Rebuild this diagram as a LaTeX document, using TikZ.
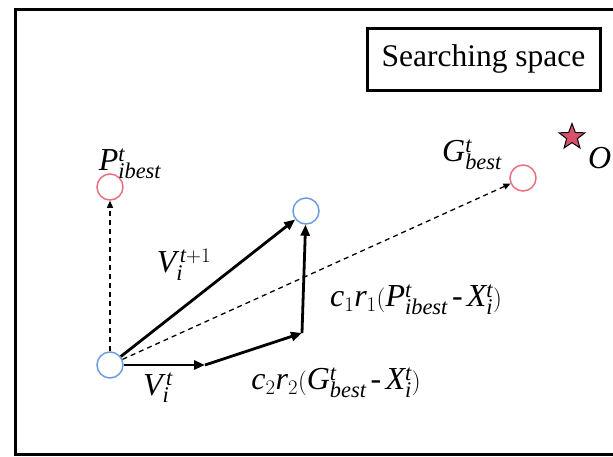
\documentclass[tikz,border=0pt]{standalone}
\usepackage{fontspec}
\setmainfont{Liberation Serif}
\usepackage{tikz}
\usetikzlibrary{arrows.meta,positioning,shapes.geometric}
\definecolor{bestred}{HTML}{E8707E}
\definecolor{partblue}{HTML}{6B9BE0}
\definecolor{starred}{HTML}{D9506A}
\newcommand{\mi}[1]{\mathit{#1}}

\begin{document}
\begin{tikzpicture}[
  x=1pt, y=-1pt,
  font=\fontsize{32}{36}\selectfont,
  pt/.style={circle, draw, line width=1.5pt, minimum size=26pt, inner sep=0pt},
  best/.style={pt, draw=bestred},
  part/.style={pt, draw=partblue},
  vec/.style={line width=2.8pt, -{Triangle[length=11pt,width=9pt]}},
  guide/.style={line width=1.3pt, dash pattern=on 5pt off 4pt, -{Triangle[length=7pt,width=6pt]}},
  lbl/.style={inner sep=0pt}
]
\useasboundingbox (0,0) rectangle (613,456);
\clip (0,0) rectangle (613,456);

% frame and title
\draw[line width=3pt] (15,9) rectangle (640,454);
\node[draw, line width=3pt, minimum width=233pt, minimum height=62pt,
      font=\fontsize{31.5}{34}\selectfont] (title) at (483.5,59) {Searching space};

% particles and bests
\node[best] (pbest) at (110,187) {};
\node[best] (gbest) at (523,178) {};
\node[part] (xi) at (110,365) {};
\node[part] (xnew) at (306,211) {};
\node[star, star points=5, star point ratio=2.4, minimum size=27pt, inner sep=0pt,
      draw=black, line width=1pt, fill=starred] (opt) at (572,137) {};

\coordinate (vtip) at (205,365);
\coordinate (gtip) at (302,333);

% vectors
\draw[guide] (xi) -- (pbest);
\draw[guide] (xi) -- (gbest);
\draw[vec] (xi) -- (xnew);
\draw[vec] (xi) -- (vtip);
\draw[vec] (vtip) -- (gtip);
\draw[vec] (gtip) -- (xnew);

% labels
\node[lbl] (pl) at (130,164) {$\mi{P}^{\mi{t}}_{\mi{ibest}}$};
\node[lbl] (gl) at (472,155) {$\mi{G}^{\mi{t}}_{\mi{best}}$};
\node[lbl, anchor=west] (ol) at (588,158) {$\mi{O}$};
\node[lbl] (vnl) at (184,265) {$\mi{V}^{\,\mi{t}+1}_{\mi{i}}$};
\node[lbl] (vl) at (158,388) {$\mi{V}^{\,\mi{t}}_{\mi{i}}$};
\node[lbl] (c1l) at (416,300) {$\mi{c}_1\mi{r}_1(\mi{P}^{\mi{t}}_{\mi{ibest}}\,\mbox{-}\,\mi{X}^{\mi{t}}_{\mi{i}})$};
\node[lbl] (c2l) at (336,383) {$\mi{c}_2\mi{r}_2(\mi{G}^{\mi{t}}_{\mi{best}}\,\mbox{-}\,\mi{X}^{\mi{t}}_{\mi{i}})$};
\end{tikzpicture}
\end{document}
